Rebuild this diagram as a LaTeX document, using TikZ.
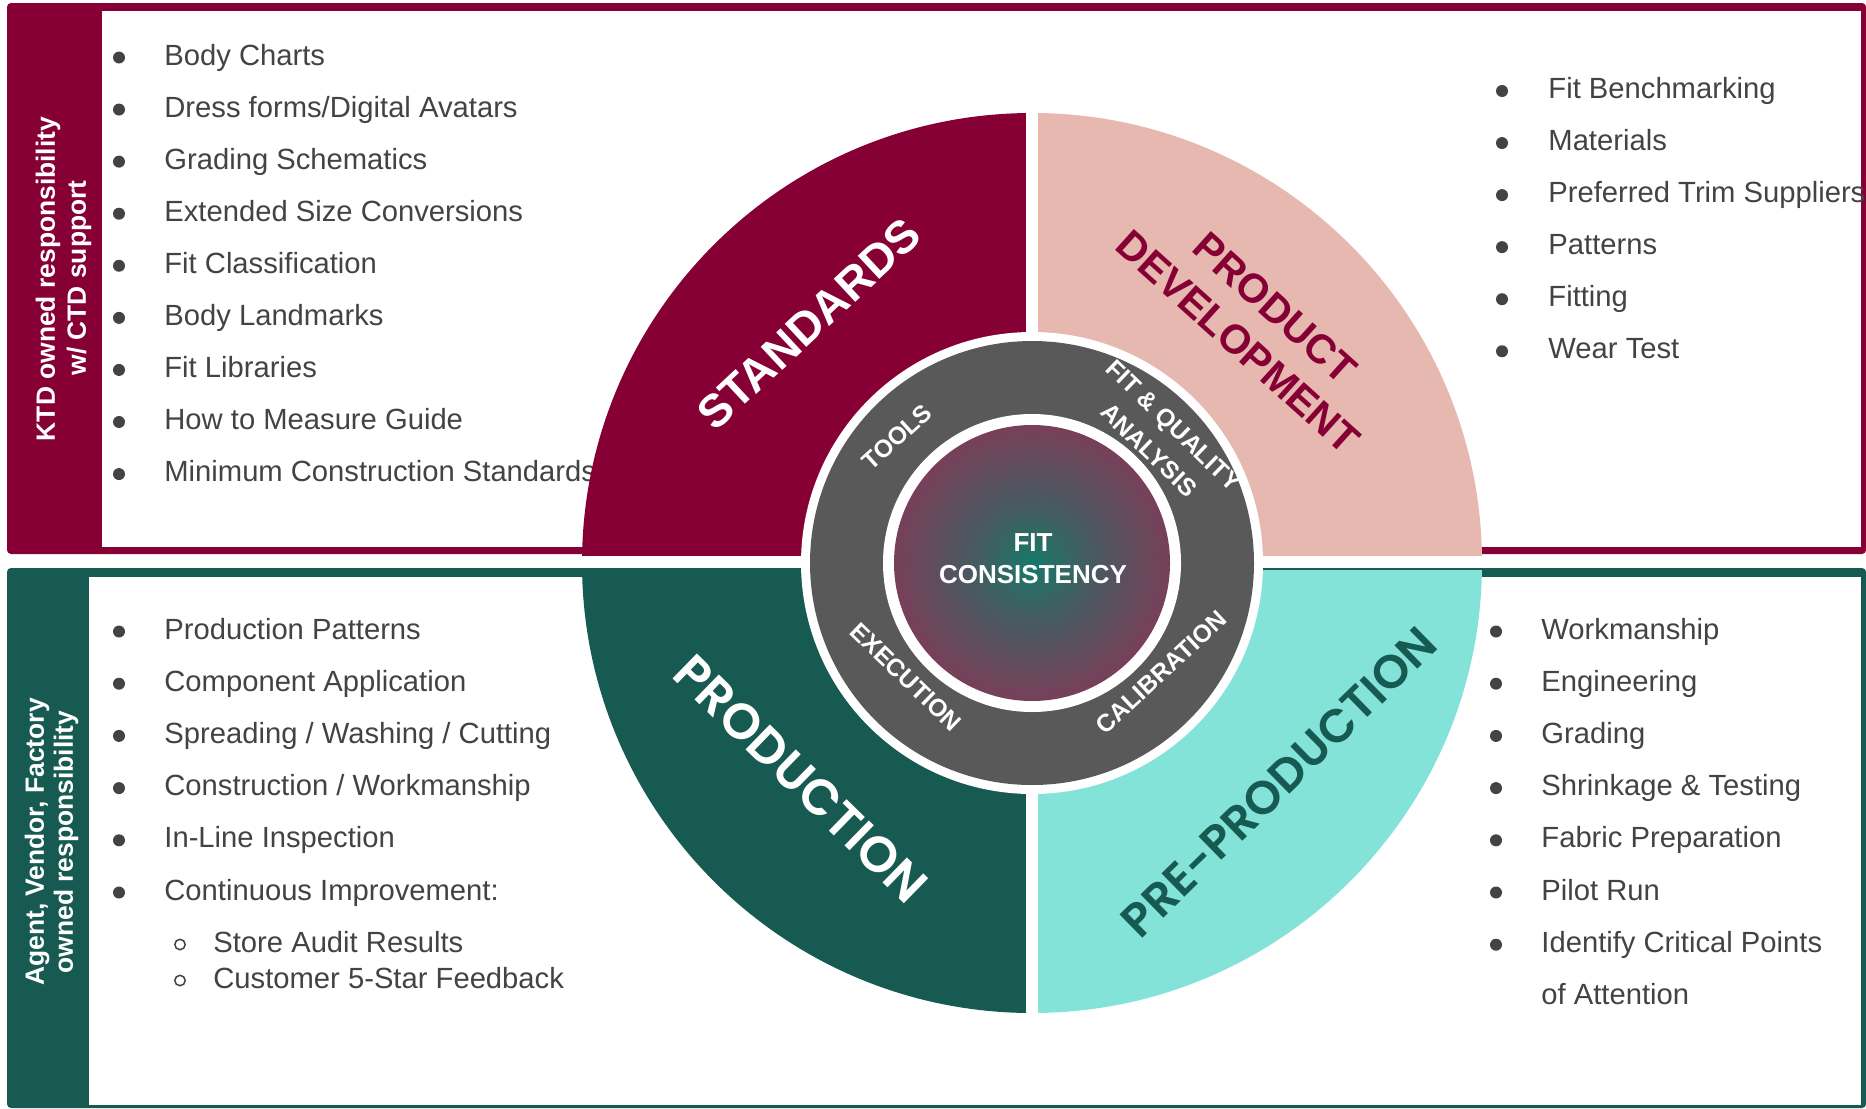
\documentclass[tikz,border=0pt]{standalone}
\usepackage{fontspec}
\setmainfont{Liberation Sans}
\newfontfamily\popfont{Poppins SemiBold}
\definecolor{maroonC}{RGB}{134,0,54}
\definecolor{pinkC}{RGB}{230,184,175}
\definecolor{tealD}{RGB}{22,90,82}
\definecolor{tealL}{RGB}{132,227,216}
\definecolor{ringgray}{RGB}{89,89,89}
\definecolor{textgray}{RGB}{67,67,67}
\pgfdeclareradialshading{fitshade}{\pgfpoint{0bp}{0bp}}{rgb(0bp)=(0.09,0.47,0.41); rgb(10bp)=(0.27,0.36,0.38); rgb(25bp)=(0.47,0.25,0.35); rgb(40bp)=(0.63,0.17,0.31); rgb(50bp)=(0.66,0.16,0.31)}
\tikzset{
  item/.style={anchor=base west, inner sep=0pt, font=\fontsize{14.6}{17}\selectfont, text=textgray},
  sidelab/.style={inner sep=0pt, rotate=90, text=white, font=\bfseries\fontsize{13.2}{15.5}\selectfont, text height=9.5pt, text depth=2.6pt},
  ringlab/.style={inner sep=0pt, text=white, font=\bfseries\fontsize{12.3}{14}\selectfont},
  bigA/.style={inner sep=0pt, font=\bfseries\fontsize{23}{27}\selectfont},
  bigB/.style={inner sep=0pt, font=\bfseries\fontsize{20.4}{24}\selectfont},
  bigP/.style={inner sep=0pt, font=\popfont\fontsize{25}{29}\selectfont},
  bigQ/.style={inner sep=0pt, font=\popfont\fontsize{23.4}{27}\selectfont},
}
\begin{document}
\begin{tikzpicture}[x=0.5pt,y=-0.5pt]
\useasboundingbox (0,0) rectangle (1866,1108);
\fill[white] (0,0) rectangle (1866,1108);
% boxes
\fill[maroonC, rounded corners=2pt] (7,3) rectangle (1866,554);
\fill[white] (102,11) rectangle (1861,547);
\fill[tealD, rounded corners=2pt] (7,568) rectangle (1866,1108);
\fill[white] (89,577) rectangle (1861,1105);
% side labels
\node[sidelab] (ktd1) at (48,279) {KTD owned responsibility};
\node[sidelab] (ktd2) at (79,278) {w/ CTD support};
\node[sidelab] (avf1) at (37,842) {Agent, Vendor, Factory};
\node[sidelab] (avf2) at (66,842) {owned responsibility};
% top-left list
\node[item] (tl0) at (164,65) {Body Charts};
\node[item] (tl1) at (164,117.1) {Dress forms/Digital Avatars};
\node[item] (tl2) at (164,169.1) {Grading Schematics};
\node[item] (tl3) at (164,221.2) {Extended Size Conversions};
\node[item] (tl4) at (164,273.3) {Fit Classification};
\node[item] (tl5) at (164,325.4) {Body Landmarks};
\node[item] (tl6) at (164,377.4) {Fit Libraries};
\node[item] (tl7) at (164,429.5) {How to Measure Guide};
\node[item] (tl8) at (164,481.6) {Minimum Construction Standards};
\foreach \k in {0,...,8} { \fill[textgray] (119,{57.5+52.07*\k}) circle[radius=6]; }
% top-right list
\node[item] (tr0) at (1548,98.6) {Fit Benchmarking};
\node[item] (tr1) at (1548,150.6) {Materials};
\node[item] (tr2) at (1548,202.7) {Preferred Trim Suppliers};
\node[item] (tr3) at (1548,254.7) {Patterns};
\node[item] (tr4) at (1548,306.8) {Fitting};
\node[item] (tr5) at (1548,358.8) {Wear Test};
\foreach \k in {0,...,5} { \fill[textgray] (1502,{91+52.05*\k}) circle[radius=6]; }
% bottom-left list
\node[item] (bl0) at (164,639) {Production Patterns};
\node[item] (bl1) at (164,691.2) {Component Application};
\node[item] (bl2) at (164,743.4) {Spreading / Washing / Cutting};
\node[item] (bl3) at (164,795.6) {Construction / Workmanship};
\node[item] (bl4) at (164,847.8) {In-Line Inspection};
\node[item] (bl5) at (164,900) {Continuous Improvement:};
\node[item] (bl6) at (213,952) {Store Audit Results};
\node[item] (bl7) at (213,988) {Customer 5-Star Feedback};
\foreach \k in {0,...,5} { \fill[textgray] (119,{631.5+52.2*\k}) circle[radius=6]; }
\draw[textgray, line width=0.75pt] (180,944.5) circle[radius=5.2];
\draw[textgray, line width=0.75pt] (180,980.5) circle[radius=5.2];
% bottom-right list
\node[item] (br0) at (1541,639) {Workmanship};
\node[item] (br1) at (1541,691.2) {Engineering};
\node[item] (br2) at (1541,743.4) {Grading};
\node[item] (br3) at (1541,795.6) {Shrinkage \& Testing};
\node[item] (br4) at (1541,847.8) {Fabric Preparation};
\node[item] (br5) at (1541,900) {Pilot Run};
\node[item] (br6) at (1541,952.2) {Identify Critical Points};
\node[item] (br7) at (1541,1004.4) {of Attention};
\foreach \k in {0,...,6} { \fill[textgray] (1496,{631.5+52.2*\k}) circle[radius=6]; }
% wheel
\coordinate (C) at (1032,563);
\begin{scope}
\clip (C) circle[radius=450];
\fill[maroonC] (570,100) rectangle (1026,556);
\fill[pinkC] (1038,100) rectangle (1490,556);
\fill[tealD] (570,570) rectangle (1026,1030);
\fill[tealL] (1038,570) rectangle (1490,1030);
\end{scope}
\fill[white] (C) circle[radius=231];
\fill[ringgray] (C) circle[radius=222];
\fill[white] (C) circle[radius=149];
\shade[shading=fitshade] (C) circle[radius=138];
% wedge labels
\node[bigA, text=white, rotate=43] (std) at (809,324) {STANDARDS};
\node[bigB, text=maroonC, rotate=-42] (pd1) at (1275,308) {PRODUCT};
\node[bigB, text=maroonC, rotate=-42] (pd2) at (1238,342) {DEVELOPMENT};
\node[bigP, text=white, rotate=-44.3] (prod) at (801,779) {PRODUCTION};
\node[bigQ, text=tealD, rotate=44.4] (pre) at (1279,782) {PRE-PRODUCTION};
% ring labels
\node[ringlab, rotate=42] (tools) at (897,437) {TOOLS};
\node[ringlab, rotate=-44] (fq1) at (1172,427) {FIT \& QUALITY};
\node[ringlab, rotate=-44] (fq2) at (1149,450) {ANALYSIS};
\node[ringlab, rotate=-44] (exe) at (906,677) {EXECUTION};
\node[ringlab, rotate=43] (cal) at (1161.5,672.5) {CALIBRATION};
% centre
\node[inner sep=0pt, text=white, font=\bfseries\fontsize{13}{16}\selectfont] (fit1) at (1033,543) {FIT};
\node[inner sep=0pt, text=white, font=\bfseries\fontsize{13}{16}\selectfont] (fit2) at (1033,575) {CONSISTENCY};
\end{tikzpicture}
\end{document}
